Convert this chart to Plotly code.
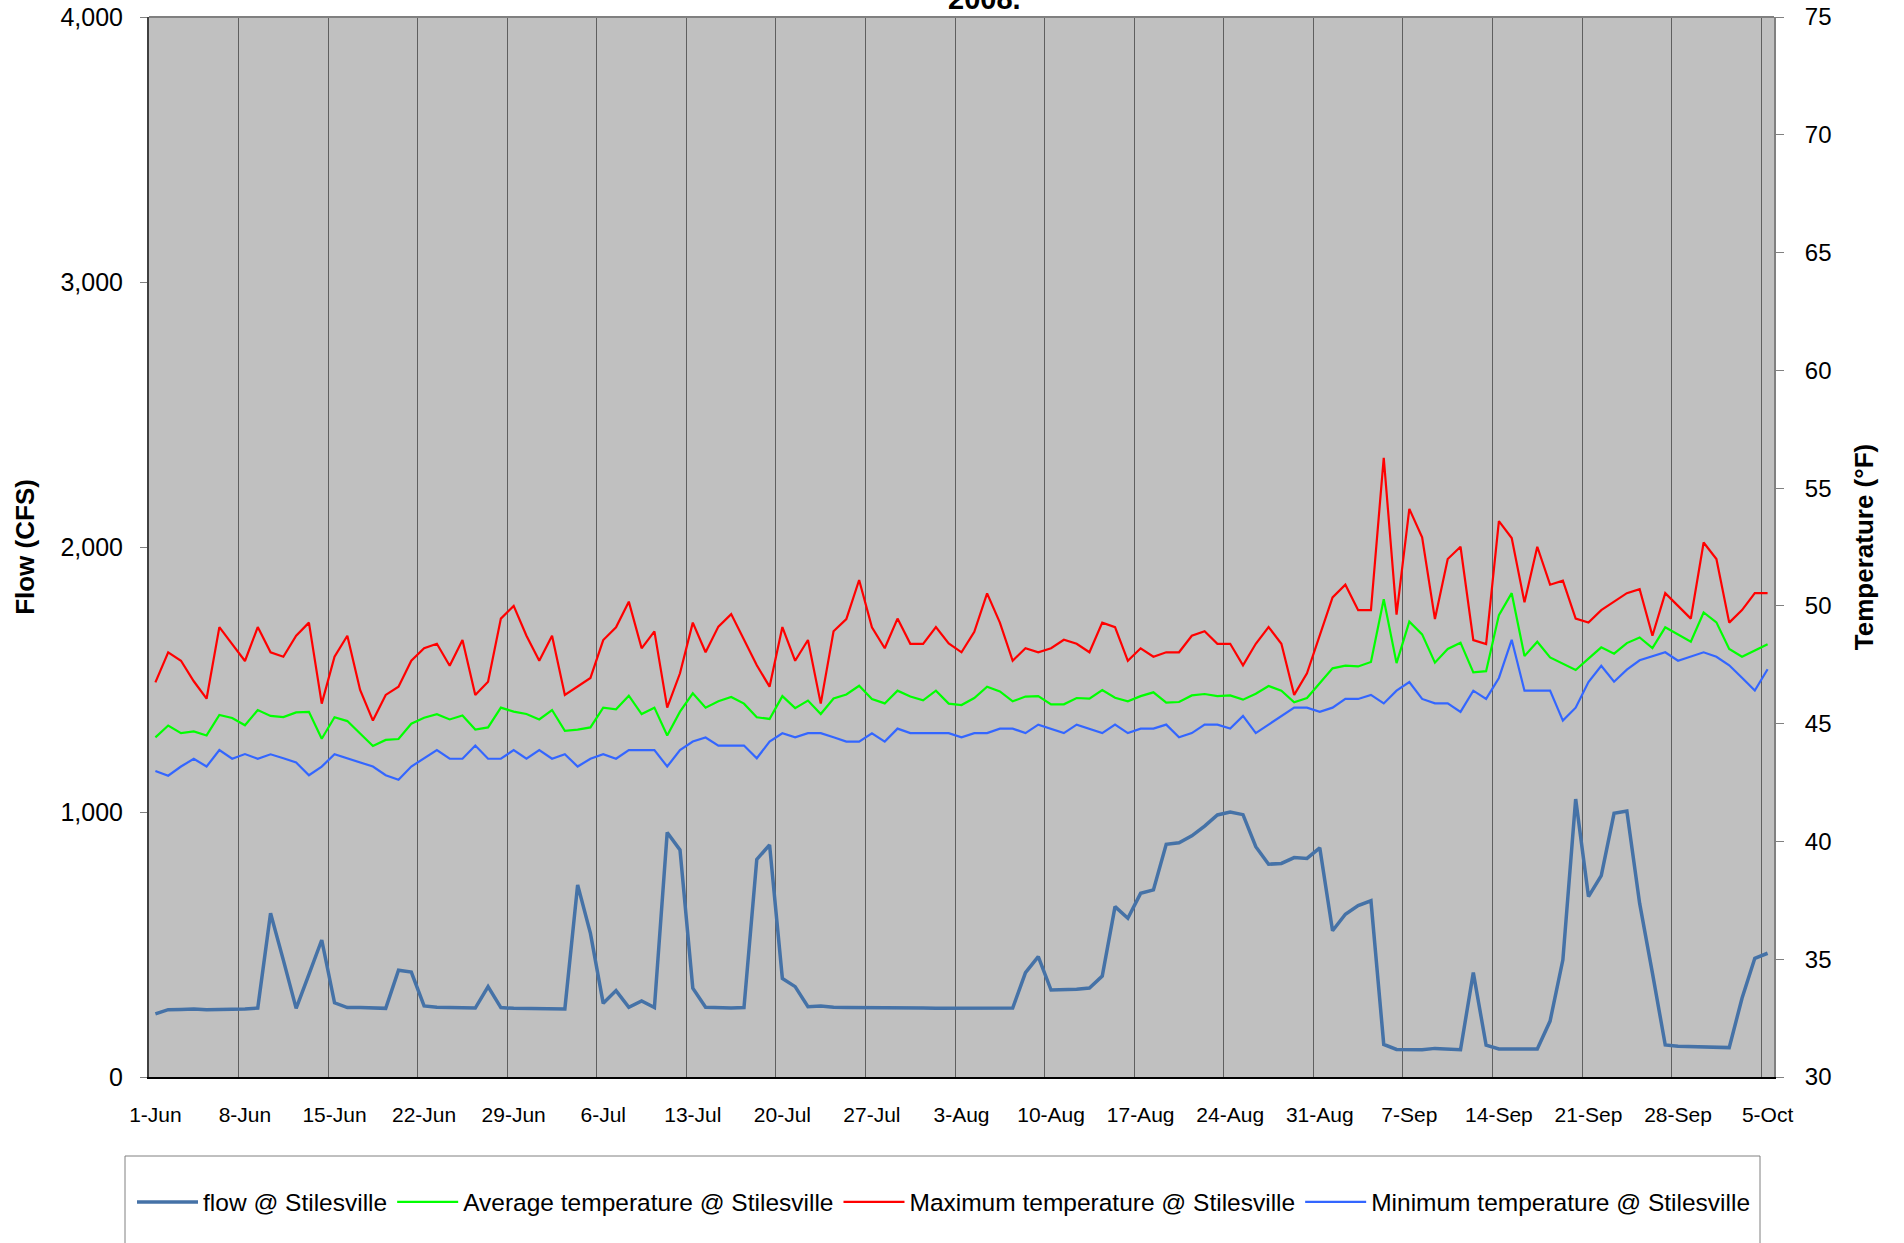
import pandas as pd
import plotly.graph_objects as go

# ---------------- data ----------------
start_date = "2008-06-01"
n_days = 127
dates = pd.date_range(start_date, periods=n_days, freq="D")

tick_labels = ["1-Jun", "8-Jun", "15-Jun", "22-Jun", "29-Jun", "6-Jul", "13-Jul", "20-Jul",
               "27-Jul", "3-Aug", "10-Aug", "17-Aug", "24-Aug", "31-Aug", "7-Sep", "14-Sep",
               "21-Sep", "28-Sep", "5-Oct"]

flow = [238, 254, 255, 257, 254, 255, 254, 257, 260, 618,
        441, 259, 387, 517, 280, 262, 262, 260, 259, 403,
        396, 268, 263, 262, 262, 260, 341, 262, 259, 259,
        259, 257, 257, 725, 542, 278, 326, 263, 287, 262,
        923, 857, 335, 263, 260, 260, 262, 821, 876, 372,
        341, 265, 268, 263, 262, 262, 263, 262, 262, 262,
        260, 259, 259, 260, 262, 260, 262, 260, 394, 454,
        328, 328, 331, 336, 381, 643, 599, 693, 706, 878,
        884, 910, 947, 989, 1000, 990, 869, 803, 806, 828,
        825, 865, 552, 614, 647, 665, 123, 104, 103, 103,
        108, 104, 103, 394, 120, 106, 106, 106, 106, 211,
        442, 1049, 681, 760, 995, 1004, 655, 392, 121, 116,
        114, 113, 112, 111, 297, 448, 467]

avg_temp = [44.42, 44.92, 44.6, 44.67, 44.5, 45.37, 45.24, 44.93, 45.58, 45.33,
            45.28, 45.48, 45.5, 44.36, 45.27, 45.11, 44.58, 44.05, 44.31, 44.35,
            45.0, 45.25, 45.4, 45.18, 45.35, 44.75, 44.84, 45.68, 45.51, 45.41,
            45.18, 45.58, 44.7, 44.75, 44.84, 45.68, 45.61, 46.19, 45.41, 45.68,
            44.5, 45.51, 46.29, 45.68,
            45.95, 46.13, 45.85, 45.27, 45.2, 46.17, 45.66, 45.98, 45.41, 46.07,
            46.24, 46.61, 46.05, 45.86, 46.4, 46.15, 45.99, 46.4, 45.85, 45.79,
            46.09, 46.57, 46.37, 45.95, 46.15, 46.17, 45.82, 45.82, 46.09, 46.06,
            46.43, 46.1, 45.95, 46.17, 46.33, 45.89, 45.92, 46.2, 46.26, 46.17,
            46.2, 46.02,
            46.27, 46.6, 46.4, 45.91, 46.09, 46.73, 47.35, 47.46, 47.43, 47.62,
            50.28, 47.57, 49.33, 48.79, 47.59, 48.17, 48.44, 47.18, 47.23, 49.61,
            50.54, 47.87, 48.48, 47.81, 47.56, 47.28, 47.76, 48.24, 47.97, 48.42,
            48.66, 48.21, 49.09, 48.78, 48.48, 49.72, 49.3, 48.17, 47.84, 48.11,
            48.37]

max_temp = [46.75, 48.03, 47.67, 46.8, 46.06, 49.1, 48.38, 47.66, 49.1, 48.03,
            47.84, 48.73, 49.29, 45.85, 47.84, 48.73, 46.43, 45.13, 46.22, 46.57,
            47.67, 48.2, 48.39, 47.46, 48.55, 46.22, 46.78, 49.46, 50.0, 48.73,
            47.67, 48.73, 46.22, 46.57, 46.94, 48.55, 49.09, 50.18, 48.2, 48.92,
            45.68, 47.14, 49.29, 48.03,
            49.12, 49.65, 48.55, 47.48, 46.57, 49.1, 47.67, 48.55, 45.85, 48.92,
            49.44, 51.1, 49.09, 48.2, 49.46, 48.39, 48.39, 49.1, 48.41, 48.03,
            48.9, 50.53, 49.29, 47.67, 48.2, 48.03, 48.2, 48.56, 48.39, 48.03,
            49.29, 49.1, 47.67, 48.2, 47.84, 48.03, 48.03, 48.73, 48.92, 48.39,
            48.39, 47.48,
            48.39, 49.1, 48.39, 46.22, 47.14, 48.73, 50.36, 50.9, 49.82, 49.82,
            56.29, 49.63, 54.12, 52.91, 49.44, 51.99, 52.51, 48.55, 48.38, 53.6,
            52.88, 50.15, 52.51, 50.9, 51.07, 49.46, 49.29, 49.82, 50.19, 50.54,
            50.71, 48.73, 50.54, 50.0, 49.46, 52.69, 51.99, 49.29, 49.82, 50.54,
            50.54]

min_temp = [42.99, 42.79, 43.18, 43.51, 43.18, 43.88, 43.51, 43.71, 43.51, 43.7,
            43.53, 43.35, 42.81, 43.18, 43.7, 43.53, 43.36, 43.18, 42.81, 42.62,
            43.18, 43.53, 43.88, 43.51, 43.51, 44.07, 43.51, 43.51, 43.88, 43.51,
            43.88, 43.51, 43.7, 43.18, 43.51, 43.7, 43.51, 43.88, 43.88, 43.88,
            43.18, 43.88, 44.24, 44.41,
            44.07, 44.07, 44.07, 43.53, 44.24, 44.59, 44.42, 44.6, 44.6, 44.42,
            44.24, 44.24, 44.59, 44.24, 44.79, 44.6, 44.6, 44.6, 44.6, 44.42,
            44.6, 44.6, 44.79, 44.79, 44.6, 44.96, 44.79, 44.6, 44.96, 44.79,
            44.6, 44.96, 44.6, 44.79, 44.79, 44.96, 44.42, 44.6, 44.96, 44.96,
            44.79, 45.33,
            44.6, 44.96, 45.33, 45.68, 45.68, 45.5, 45.68, 46.05, 46.05, 46.22,
            45.86, 46.4, 46.77, 46.05, 45.86, 45.86, 45.5, 46.4, 46.05, 46.94,
            48.56, 46.4, 46.4, 46.4, 45.13, 45.68, 46.77, 47.46, 46.78, 47.29,
            47.69, 47.86, 48.03, 47.67, 47.86, 48.03, 47.84, 47.48, 46.95, 46.41,
            47.31]

series_names = ["flow @ Stilesville", "Average temperature @ Stilesville",
                "Maximum temperature @ Stilesville", "Minimum temperature @ Stilesville"]
title_text = "2008."

# ---------------- figure ----------------
FONT = "Liberation Sans, Arial, sans-serif"
half_day = pd.Timedelta(hours=12)
tick_dates = list(dates[::7])
grid_dates = [d + pd.Timedelta(days=6) + half_day for d in dates[::7]][:-1]

fig = go.Figure()
fig.add_trace(go.Scatter(x=dates, y=flow, name=series_names[0], mode="lines",
                         line=dict(color="#4572A7", width=3.5), yaxis="y"))
fig.add_trace(go.Scatter(x=dates, y=avg_temp, name=series_names[1], mode="lines",
                         line=dict(color="#00FF00", width=2.2), yaxis="y2"))
fig.add_trace(go.Scatter(x=dates, y=max_temp, name=series_names[2], mode="lines",
                         line=dict(color="#FF0000", width=2.2), yaxis="y2"))
fig.add_trace(go.Scatter(x=dates, y=min_temp, name=series_names[3], mode="lines",
                         line=dict(color="#3366FF", width=2.2), yaxis="y2"))

L, R, T, B = 149, 130, 17, 166
W, H = 1904, 1243
pw = W - L - R
ph = H - T - B

def px_x(x):
    return (x - L) / pw

def px_y(y):
    return (H - B - y) / ph

fig.update_layout(
    width=W, height=H,
    margin=dict(l=L, r=R, t=T, b=B, autoexpand=False),
    paper_bgcolor="white",
    plot_bgcolor="#C0C0C0",
    font=dict(family=FONT, color="black"),
    showlegend=True,
    xaxis=dict(
        type="date",
        range=[dates[0] - half_day, dates[-1] + half_day],
        tickmode="array", tickvals=tick_dates, ticktext=tick_labels,
        tickfont=dict(size=21, family=FONT, color="black"),
        ticks="", showgrid=False, zeroline=False,
        showline=True, linecolor="black", linewidth=2,
        ticklabelstandoff=18,
        minor=dict(tickmode="array", tickvals=grid_dates, showgrid=True,
                   gridcolor="#5F5F5F", gridwidth=1, ticks=""),
    ),
    yaxis=dict(
        range=[0, 4000], tickmode="linear", tick0=0, dtick=1000, tickformat=",",
        tickfont=dict(size=25, family=FONT, color="black"),
        ticks="outside", ticklen=7, tickcolor="#808080", tickwidth=1,
        showgrid=False, zeroline=False,
        showline=True, linecolor="#404040", linewidth=2,
        ticklabelstandoff=12,
        title=dict(text="<b>Flow (CFS)</b>", font=dict(size=26, family=FONT, color="black"),
                   standoff=18),
    ),
    yaxis2=dict(
        overlaying="y", side="right", anchor="x",
        range=[30, 75], tickmode="linear", tick0=30, dtick=5,
        tickfont=dict(size=24, family=FONT, color="black"),
        ticks="outside", ticklen=8, tickcolor="#808080", tickwidth=1,
        showgrid=False, zeroline=False,
        showline=True, linecolor="#808080", linewidth=2,
        ticklabelstandoff=16,
        title=dict(text="<b>Temperature (°F)</b>", font=dict(size=26, family=FONT, color="black"),
                   standoff=24),
    ),
    legend=dict(
        orientation="h",
        x=px_x(132), xanchor="left",
        y=px_y(1202), yanchor="middle",
        font=dict(size=24.5, family=FONT, color="black"),
        bgcolor="rgba(0,0,0,0)", borderwidth=0,
        itemwidth=61,
        traceorder="normal",
    ),
    shapes=[
        dict(type="line", xref="paper", yref="paper", x0=0, x1=1, y0=1, y1=1,
             line=dict(color="#808080", width=2), layer="above"),
        dict(type="rect", xref="paper", yref="paper",
             x0=px_x(125), x1=px_x(1760), y0=px_y(1156), y1=px_y(1300),
             line=dict(color="#808080", width=1), fillcolor="rgba(0,0,0,0)", layer="below"),
    ],
    annotations=[
        dict(text="<b>" + title_text + "</b>", xref="paper", yref="paper",
             x=px_x(984), y=1, xanchor="center", yanchor="bottom", yshift=0,
             showarrow=False, font=dict(size=29, family=FONT, color="black")),
    ],
)

fig.write_html("out.html",
               config={"displayModeBar": False},
               post_script="document.body.style.margin='0';document.body.style.overflow='hidden';")
